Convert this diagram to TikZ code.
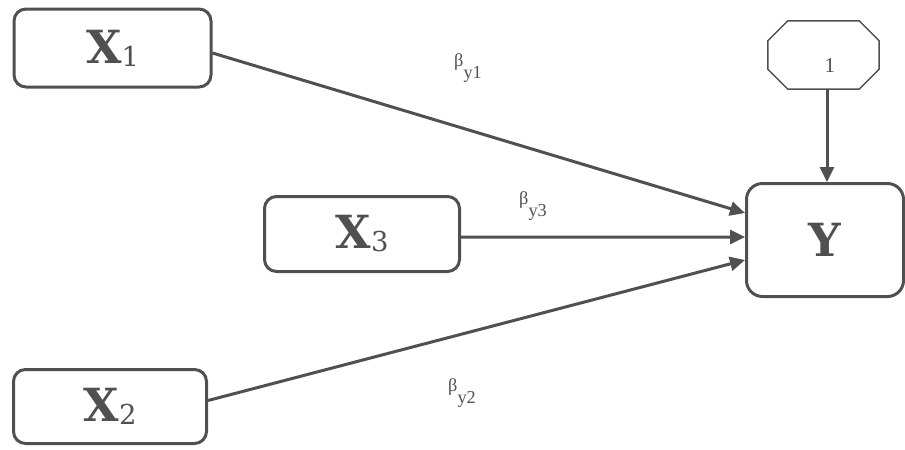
\documentclass[tikz,border=0pt]{standalone}
\usepackage{fontspec}
\setmainfont{Liberation Serif}
\newfontfamily\boxfont{DejaVu Serif}
\usepackage{tikz}
\usetikzlibrary{arrows.meta,positioning}
\definecolor{linegray}{RGB}{80,80,80}
\tikzset{
    var/.style={rectangle, rounded corners=1.2mm, draw=linegray, line width=0.3mm, text=linegray, font=\boxfont\fontsize{13}{13}\selectfont\bfseries},
    const/.style={rectangle, text=linegray, inner sep=0pt, font=\fontsize{6}{6}\selectfont},
    octo/.style={draw=linegray, line width=0.15mm},
    edge/.style={draw=linegray, line width=0.3mm, -{Triangle[length=1.5mm, width=1.4mm]}},
    coef/.style={text=linegray, inner sep=0pt, font=\fontsize{5.2}{6}\selectfont}
}
\newcommand{\xsub}[1]{\raisebox{-0.3mm}{\mdseries\fontsize{7.8}{8}\selectfont #1}}
\newcommand{\coefb}[1]{β\raisebox{-1.2mm}{y#1}}

\begin{document}
\begin{tikzpicture}[x=0.1mm, y=-0.1mm]
    \useasboundingbox (0,0) rectangle (905,449);
    % Nodes
    \node[var, minimum width=19.7mm, minimum height=7.8mm] (X1) at (112.5,48) {X\xsub{1}};
    \node[var, minimum width=19.5mm, minimum height=7.5mm] (X3) at (362,234) {X\xsub{3}};
    \node[var, minimum width=19.3mm, minimum height=7.4mm] (X2) at (110,406.5) {X\xsub{2}};
    \node[var, rounded corners=1.6mm, minimum width=15.7mm, minimum height=11.3mm] (Y) at (825,240) {Y};
    \node[const, minimum width=11mm, minimum height=6.7mm] (one) at (823.5,55) {\hspace*{1.3mm}\raisebox{-1.7mm}[0pt][0pt]{1}};
    % octagon round the constant
    \draw[octo] ([xshift=2mm]one.north west) -- ([xshift=-2mm]one.north east)
        -- ([yshift=-2mm]one.north east) -- ([yshift=2mm]one.south east)
        -- ([xshift=-2mm]one.south east) -- ([xshift=2mm]one.south west)
        -- ([yshift=2mm]one.south west) -- ([yshift=-2mm]one.north west) -- cycle;

    % coefficients
    \node[coef] (b1) at (468,68) {\coefb{1}};
    \node[coef] (b3) at (533,206) {\coefb{3}};
    \node[coef] (b2) at (462,393) {\coefb{2}};

    % edges
    \draw[edge] ([yshift=-0.5mm]X1.east) -- ([yshift=2.7mm]Y.west);
    \draw[edge] ([yshift=-0.3mm]X3.east) -- ([yshift=0.3mm]Y.west);
    \draw[edge] ([yshift=0.6mm]X2.east) -- ([yshift=-2.0mm]Y.west);
    \draw[edge] ([xshift=0.35mm]one.south) -- ([xshift=0.2mm]Y.north);
\end{tikzpicture}
\end{document}
